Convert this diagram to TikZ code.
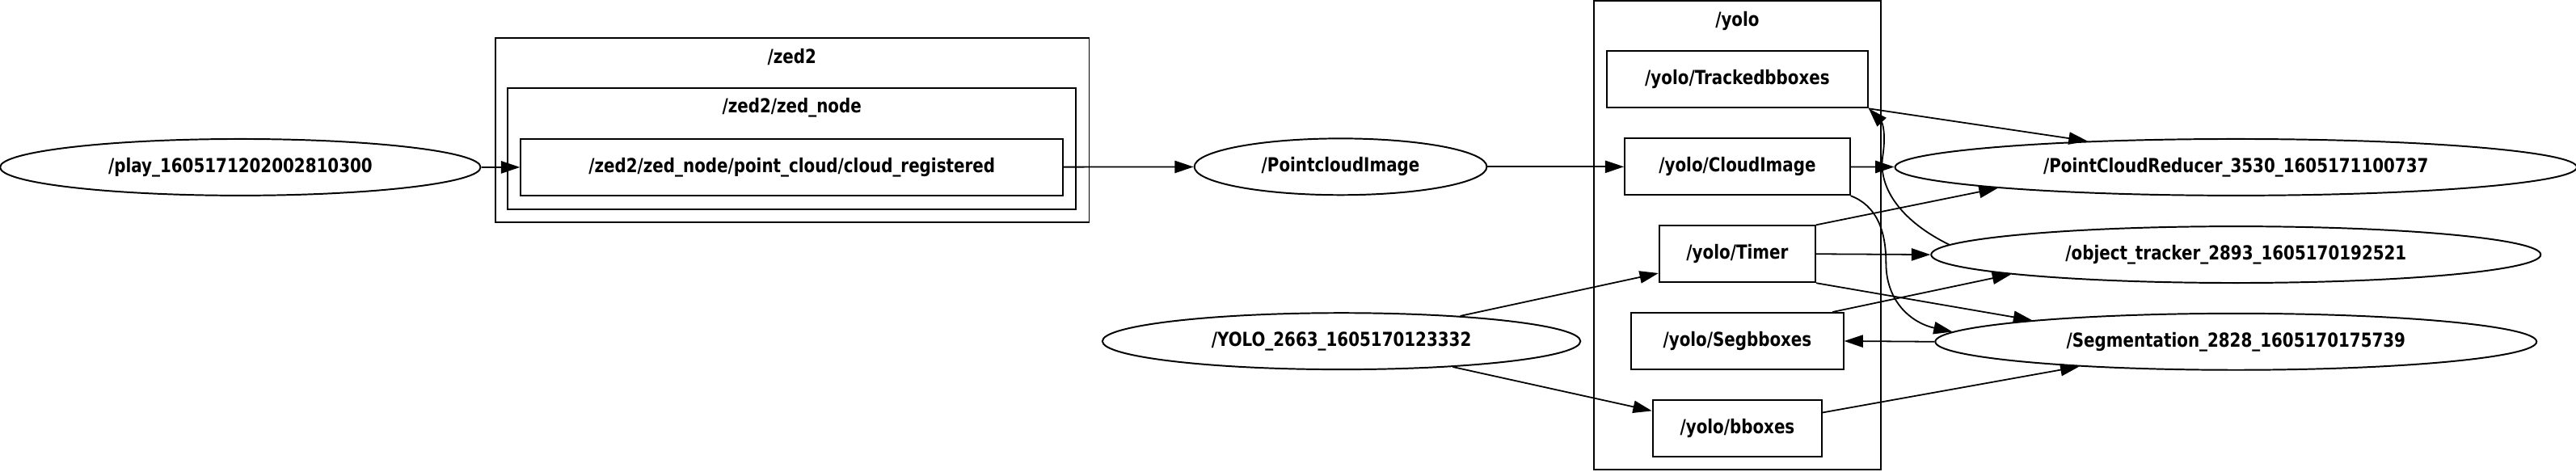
\documentclass[tikz,border=0pt]{standalone}
\usepackage{fontspec}
\setmainfont{DejaVu Sans}[FakeStretch=0.83]
\usetikzlibrary{arrows.meta,shapes.geometric}

\begin{document}
\begin{tikzpicture}[x=0.2mm, y=-0.2mm,
    every node/.style={font=\fontsize{6.7}{8}\selectfont\bfseries},
    topic/.style={draw, line width=0.55pt, inner sep=0pt, minimum height=6.88mm},
    rosnode/.style={draw, ellipse, line width=0.55pt, inner sep=0pt, minimum height=6.88mm},
    cluster/.style={draw, line width=0.55pt, inner sep=0pt},
    conn/.style={line width=0.5pt, -{Triangle[length=2.3mm,width=1.5mm]}}]

    \useasboundingbox (0,0) rectangle (1568,287.3);

    % Cluster
    \node[cluster, minimum width=72.3mm, minimum height=22.5mm] (zed) at (482.2,79.25) {};
    \node (zedlbl) at (482,34.5) {/zed2};
    \node[cluster, minimum width=69.2mm, minimum height=14.8mm] (zednode) at (482,90.5) {};
    \node (zednodelbl) at (482,65.7) {/zed2/zed\_node};
    \node[cluster, minimum width=35mm, minimum height=57.1mm] (yolo) at (1057.5,143.25) {};
    \node (yololbl) at (1057.5,12.8) {/yolo};

    % Nodi
    \node[rosnode, minimum width=58.5mm] (play) at (146.3,101.8) {/play\_1605171202002810300};
    \node[topic, minimum width=66mm] (cloudreg) at (482,101.8) {/zed2/zed\_node/point\_cloud/cloud\_registered};
    \node[rosnode, minimum width=35.6mm] (pcimg) at (816,101.5) {/PointcloudImage};
    \node[rosnode, minimum width=58.2mm] (yolonode) at (816.5,207.7) {/YOLO\_2663\_1605170123332};

    \node[topic, minimum width=31.8mm] (tracked) at (1057.5,48.4) {/yolo/Trackedbboxes};
    \node[topic, minimum width=27.4mm] (cloudimg) at (1057.5,101.5) {/yolo/CloudImage};
    \node[topic, minimum width=19mm] (timer) at (1057.5,154.6) {/yolo/Timer};
    \node[topic, minimum width=25.8mm] (segb) at (1057.5,207.6) {/yolo/Segbboxes};
    \node[topic, minimum width=20.6mm] (bboxes) at (1057.5,260.8) {/yolo/bboxes};

    \node[rosnode, minimum width=83mm] (reducer) at (1361,101.8) {/PointCloudReducer\_3530\_1605171100737};
    \node[rosnode, minimum width=74.2mm] (tracker) at (1361,155) {/object\_tracker\_2893\_1605170192521};
    \node[rosnode, minimum width=73.2mm] (segm) at (1361,208) {/Segmentation\_2828\_1605170175739};

    % Archi
    \draw[conn] (play) -- (cloudreg);
    \draw[conn] (cloudreg) -- (pcimg);
    \draw[conn] (pcimg) -- (cloudimg);
    \draw[conn] (cloudimg) -- (reducer);

    \draw[conn] (tracked.south east) -- (reducer.170.5);
    \draw[conn] (tracker.178.5) .. controls (1158,135) and (1143,115) .. (1146,95)
        .. controls (1148,82) and (1146,75) .. (tracked.south east);
    \draw[conn] (cloudimg.south east) .. controls (1142,125) and (1148,140) .. (1148,160)
        .. controls (1148,185) and (1165,197) .. (segm.178.7);

    \draw[conn] (timer.north east) -- (reducer.185.4);
    \draw[conn] (timer.east) -- (tracker.west);
    \draw[conn] (timer.south east) -- (segm.174.8);
    \draw[conn] ([xshift=-1.4mm]segb.north east) -- (tracker.185.3);
    \draw[conn] (segm.west) -- (segb.east);
    \draw[conn] ([yshift=-1.6mm]bboxes.north east) -- (segm.189);

    \draw[conn] (yolonode.12.1) -- ([yshift=1.2mm]timer.south west);
    \draw[conn] (yolonode.347.9) -- ([yshift=-1.4mm]bboxes.north west);

\end{tikzpicture}
\end{document}
